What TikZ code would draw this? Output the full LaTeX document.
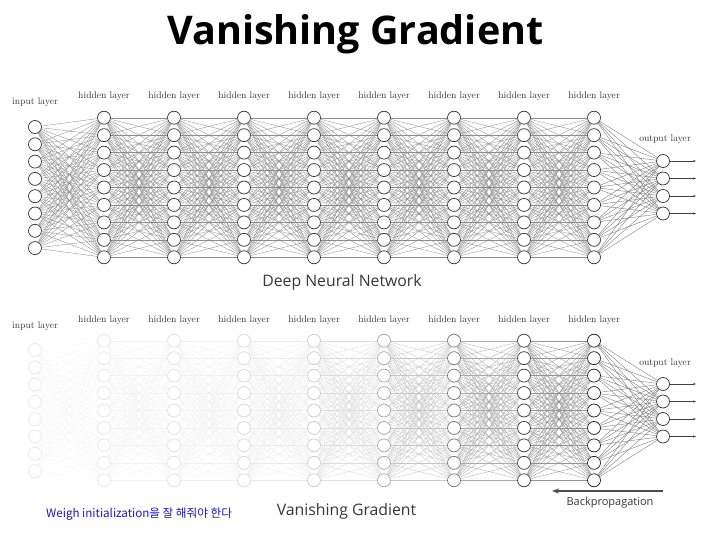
\documentclass[tikz,border=0pt]{standalone}
\usepackage{fontspec}
\usetikzlibrary{arrows.meta}
\newfontfamily\titlefont{Open Sans}
\newfontfamily\capfont{Open Sans}
\newfontfamily\krfont{Noto Sans CJK KR}
\definecolor{noteblue}{RGB}{25,25,195}
\definecolor{capgray}{RGB}{55,55,55}
\tikzset{
  neuron/.style={circle, minimum size=13pt, inner sep=0pt, fill=white, line width=0.7pt},
  edge/.style={line width=0.35pt},
  layerlabel/.style={font=\fontsize{9.6}{10}\selectfont, text=black!80, inner sep=0pt, anchor=base},
  outarrow/.style={line width=0.5pt, -{Stealth[length=3pt,width=2.2pt]}},
  caption/.style={font=\capfont\fontsize{15.8}{18}\selectfont, text=capgray, anchor=base, inner sep=0pt},
}
\begin{document}
\begin{tikzpicture}[x=1pt, y=-1pt]
\useasboundingbox (0,0) rectangle (717,537);
% title
\node[font=\titlefont\bfseries\fontsize{39.5}{42}\selectfont, anchor=base, inner sep=0pt] (title) at (355.5,45) {Vanishing Gradient};

\foreach \net/\dy/\fd in {t/0/0, b/223/1}{
  % layer labels
  \node[layerlabel] (\net-lab0) at (35,{105+\dy}) {input layer};
  \foreach \L in {1,...,8}{
    \node[layerlabel] (\net-lab\L) at ({104+70*(\L-1)},{99+\dy}) {hidden layer};
  }
  \node[layerlabel] (\net-lab9) at (665,{142+\dy}) {output layer};
  % nodes
  \pgfmathtruncatemacro{\c}{\fd==1 ? 9 : 80}
  \foreach \i in {1,...,8}{
    \node[neuron, draw=black!\c] (\net-0-\i) at (35,{127+17.3*(\i-1)+\dy}) {};
  }
  \foreach \L in {1,...,8}{
    \pgfmathtruncatemacro{\c}{\fd==1 ? {10,12,15,20,35,55,78,90}[\L-1] : 80}
    \foreach \i in {1,...,9}{
      \node[neuron, draw=black!\c] (\net-\L-\i) at ({104+70*(\L-1)},{117.7+17.45*(\i-1)+\dy}) {};
    }
  }
  \foreach \i in {1,...,4}{
    \node[neuron, draw=black!80] (\net-9-\i) at (663,{161+17.5*(\i-1)+\dy}) {};
    \coordinate (\net-o-\i) at (696,{161+17.5*(\i-1)+\dy});
    \draw[outarrow, black!75] (\net-9-\i) -- (\net-o-\i);
  }
  % edges
  \pgfmathtruncatemacro{\e}{\fd==1 ? 4 : 45}
  \foreach \i in {1,...,8}{
    \foreach \j in {1,...,9}{
      \draw[edge, black!\e] (\net-0-\i) -- (\net-1-\j);
    }
  }
  \foreach \L in {1,...,7}{
    \pgfmathtruncatemacro{\M}{\L+1}
    \pgfmathtruncatemacro{\e}{\fd==1 ? {5,6,8,13,22,33,42}[\L-1] : 45}
    \foreach \i in {1,...,9}{
      \foreach \j in {1,...,9}{
        \draw[edge, black!\e] (\net-\L-\i) -- (\net-\M-\j);
      }
    }
  }
  \foreach \i in {1,...,9}{
    \foreach \j in {1,...,4}{
      \draw[edge, black!55] (\net-8-\i) -- (\net-9-\j);
    }
  }
}

% captions
\node[caption] (cap1) at (342,287) {Deep Neural Network};
\node[caption] (cap2) at (346.5,515) {Vanishing Gradient};
\node[font=\capfont\fontsize{11}{13}\selectfont, text=capgray, anchor=base, inner sep=0pt] (bp) at (610,505) {Backpropagation};
\coordinate (bpS) at (663,491);
\coordinate (bpE) at (552,491);
\draw[line width=1.3pt, black!70, -{Stealth[length=7pt,width=5pt]}] (bpS) -- (bpE);
\node[font=\krfont\fontsize{11.6}{13}\selectfont, text=noteblue, anchor=base west, inner sep=0pt] (note) at (46,517) {Weigh initialization을 잘 해줘야 한다};
\end{tikzpicture}
\end{document}
